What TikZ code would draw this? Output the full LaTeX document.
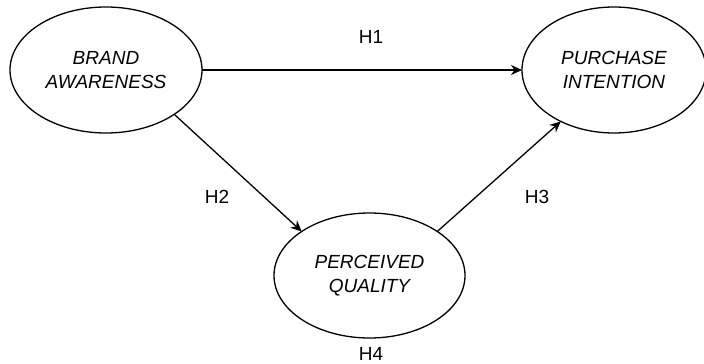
\documentclass[tikz,border=0pt]{standalone}
\usepackage{fontspec}
\setmainfont{Liberation Sans}
\usetikzlibrary{arrows.meta,shapes.geometric}

\begin{document}
\begin{tikzpicture}[x=1pt,y=-1pt]
\tikzset{
  construct/.style={ellipse,draw,line width=1.3pt,inner sep=0pt,outer sep=0pt,align=center,
    font=\fontsize{19}{24}\selectfont\itshape},
  hypothesis/.style={-{Stealth[length=11pt,width=10pt,inset=3.5pt]},line width=1.3pt},
  hlabel/.style={font=\fontsize{19}{22}\selectfont,inner sep=0pt}
}
\useasboundingbox (0,0) rectangle (704,364);
\node[construct,minimum width=192pt,minimum height=126pt] (n_BA) at (106,70) {BRAND\\AWARENESS};
\node[construct,minimum width=184pt,minimum height=126pt] (n_PI) at (614,70) {PURCHASE\\INTENTION};
\node[construct,minimum width=191pt,minimum height=125pt] (n_PQ) at (369.5,275.5) {PERCEIVED\\QUALITY};
\node[hlabel] (l_H1) at (371,37) {H1};
\node[hlabel] (l_H2) at (217,197) {H2};
\node[hlabel] (l_H3) at (537,197) {H3};
\node[hlabel] (l_H4) at (371,353.5) {H4};
\draw[hypothesis] (n_BA.east) -- (n_PI.west);
\draw[hypothesis] (n_BA.-33) -- (n_PQ.147);
\draw[hypothesis] (n_PQ.33) -- (n_PI.224);
\end{tikzpicture}
\end{document}
